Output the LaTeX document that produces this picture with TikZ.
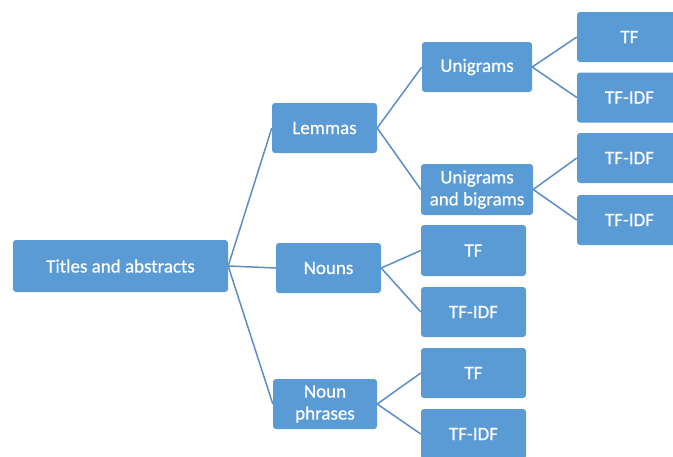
\documentclass[tikz,border=0pt]{standalone}
\usepackage{fontspec}
\setmainfont{Carlito}
\newfontfamily\boxfont{Carlito}[FakeBold=0.5]
\definecolor{boxblue}{HTML}{5B9BD5}
\definecolor{lineblue}{HTML}{5B8EC6}
\begin{document}
\begin{tikzpicture}[x=1pt,y=-1pt,
  box/.style={fill=boxblue, rounded corners=3pt, text=white, font=\boxfont\fontsize{19}{22}\selectfont, align=center, inner sep=0pt},
  link/.style={draw=lineblue, line width=1.5pt}]
\useasboundingbox (0,0) rectangle (673,456);
\node[box, minimum width=215pt, minimum height=52pt] (t) at (120.5,266) {Titles and abstracts};
\node[box, minimum width=105pt, minimum height=50pt] (lem) at (324.5,128) {Lemmas};
\node[box, minimum width=105pt, minimum height=50pt] (nou) at (328.5,268) {Nouns};
\node[box, minimum width=104pt, minimum height=50pt] (np) at (325,404) {Noun\\phrases};
\node[box, minimum width=110pt, minimum height=50pt] (uni) at (477,67) {Unigrams};
\node[box, minimum width=112pt, minimum height=51pt] (ub) at (477,189.5) {Unigrams\\and bigrams};
\node[box, minimum width=105pt, minimum height=50pt] (u1) at (629.5,37) {TF};
\node[box, minimum width=105pt, minimum height=50pt] (u2) at (629.5,97.5) {TF-IDF};
\node[box, minimum width=105pt, minimum height=50pt] (b1) at (629.5,158) {TF-IDF};
\node[box, minimum width=105pt, minimum height=50pt] (b2) at (629.5,220) {TF-IDF};
\node[box, minimum width=105pt, minimum height=51pt] (n1) at (473.5,250.5) {TF};
\node[box, minimum width=105pt, minimum height=50pt] (n2) at (473.5,312) {TF-IDF};
\node[box, minimum width=105pt, minimum height=50pt] (p1) at (473.5,373) {TF};
\node[box, minimum width=105pt, minimum height=50pt] (p2) at (473.5,434) {TF-IDF};
\draw[link] (t.east) -- (lem.west);
\draw[link] (t.east) -- (nou.west);
\draw[link] (t.east) -- (np.west);
\draw[link] (lem.east) -- (uni.west);
\draw[link] (lem.east) -- (ub.west);
\draw[link] (uni.east) -- (u1.west);
\draw[link] (uni.east) -- (u2.west);
\draw[link] (ub.east) -- (b1.west);
\draw[link] (ub.east) -- (b2.west);
\draw[link] (nou.east) -- (n1.west);
\draw[link] (nou.east) -- (n2.west);
\draw[link] (np.east) -- (p1.west);
\draw[link] (np.east) -- (p2.west);
\end{tikzpicture}
\end{document}
